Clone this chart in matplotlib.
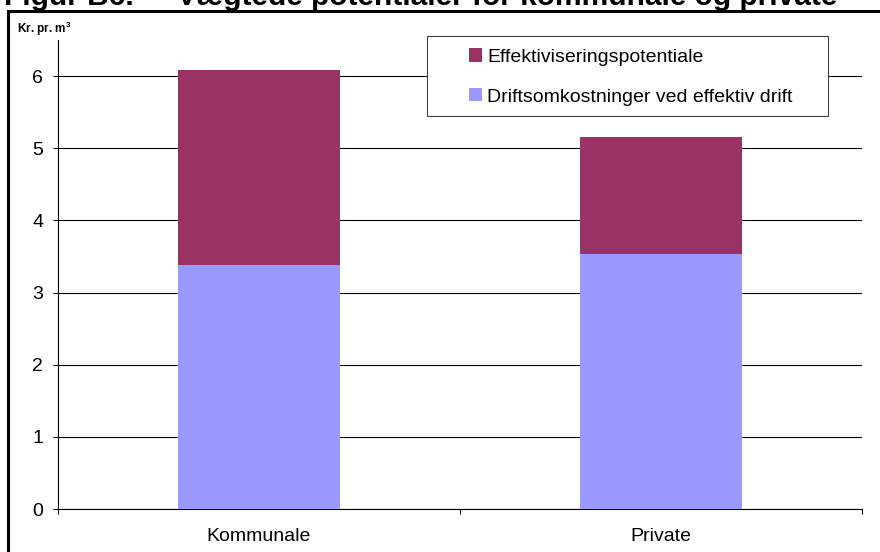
import matplotlib
matplotlib.use("Agg")
import matplotlib.pyplot as plt
from matplotlib.patches import Rectangle

plt.rcParams['font.family'] = ['Liberation Sans', 'DejaVu Sans']

categories = ["Kommunale", "Private"]
drift = [3.38, 3.53]
potentiale = [2.70, 1.63]
yticks = [0, 1, 2, 3, 4, 5, 6]

col_pot = "#993366"
col_drift = "#9999FF"

W, H = 880, 552
fig = plt.figure(figsize=(W / 100, H / 100), dpi=100)

# plot area in pixel terms
left, right, bottom_px, top_px = 58, 862, 509, 40
ax = fig.add_axes([left / W, 1 - bottom_px / H, (right - left) / W, (bottom_px - top_px) / H])


def px_to_axes(px, py):
    return (px - left) / (right - left), (bottom_px - py) / (bottom_px - top_px)


x = list(range(len(categories)))
ax.bar(x, drift, width=0.405, color=col_drift, zorder=3, label="Driftsomkostninger ved effektiv drift")
ax.bar(x, potentiale, width=0.405, bottom=drift, color=col_pot, zorder=3, label="Effektiviseringspotentiale")

ax.set_xlim(-0.5, len(categories) - 0.5)
ax.set_ylim(0, 6.5)
ax.set_yticks(yticks)
ax.set_yticklabels([str(t) for t in yticks], fontsize=14)
ax.yaxis.grid(True, color="black", linewidth=0.8, zorder=0)
ax.set_axisbelow(True)

# category labels centered, ticks on category boundaries
ax.set_xticks([i - 0.5 for i in range(len(categories) + 1)])
ax.set_xticklabels([])
ax.set_xticks(x, minor=True)
ax.set_xticklabels(categories, minor=True, fontsize=14)
ax.tick_params(axis="x", which="minor", length=0, pad=14)
ax.tick_params(axis="x", which="major", direction="out", length=3.6, width=0.8)
ax.tick_params(axis="y", direction="out", length=3.6, width=0.8, pad=7)

for s in ("top", "right"):
    ax.spines[s].set_visible(False)
for s in ("left", "bottom"):
    ax.spines[s].set_linewidth(0.8)

# legend box drawn separately so its padding can be set freely
bx0, by0 = px_to_axes(427, 116)
bx1, by1 = px_to_axes(828, 36)
ax.add_patch(Rectangle((bx0, by0), bx1 - bx0, by1 - by0, transform=ax.transAxes,
                       facecolor="white", edgecolor="#404040", linewidth=0.8,
                       zorder=4, clip_on=False))

handles, labels = ax.get_legend_handles_labels()
lx, ly = px_to_axes(469, 77)
leg = ax.legend(handles[::-1], labels[::-1], loc="center left", bbox_to_anchor=(lx, ly),
                frameon=False, fontsize=14,
                handlelength=0.67, handleheight=0.67, handletextpad=0.26,
                labelspacing=1.15, borderpad=0, borderaxespad=0)
leg.set_zorder(5)

fig.text(17 / W, 1 - 33 / H, r"Kr. pr. m$^\mathregular{3}$", fontsize=8.5, fontweight="bold",
         va="baseline")

# outer frame (runs off the right and bottom edges)
fig.patches.append(Rectangle((8 / W, -0.05), 1.0, 1 - 11 / H + 0.05, transform=fig.transFigure,
                             fill=False, edgecolor="black", linewidth=2.2, clip_on=False))

fig.text(4 / W, 1 - 5 / H, "Figur B6.  -  Vægtede potentialer for kommunale og private",
         fontsize=21.5, fontweight="bold", va="baseline", ha="left")

fig.savefig("out.png", dpi=100)
